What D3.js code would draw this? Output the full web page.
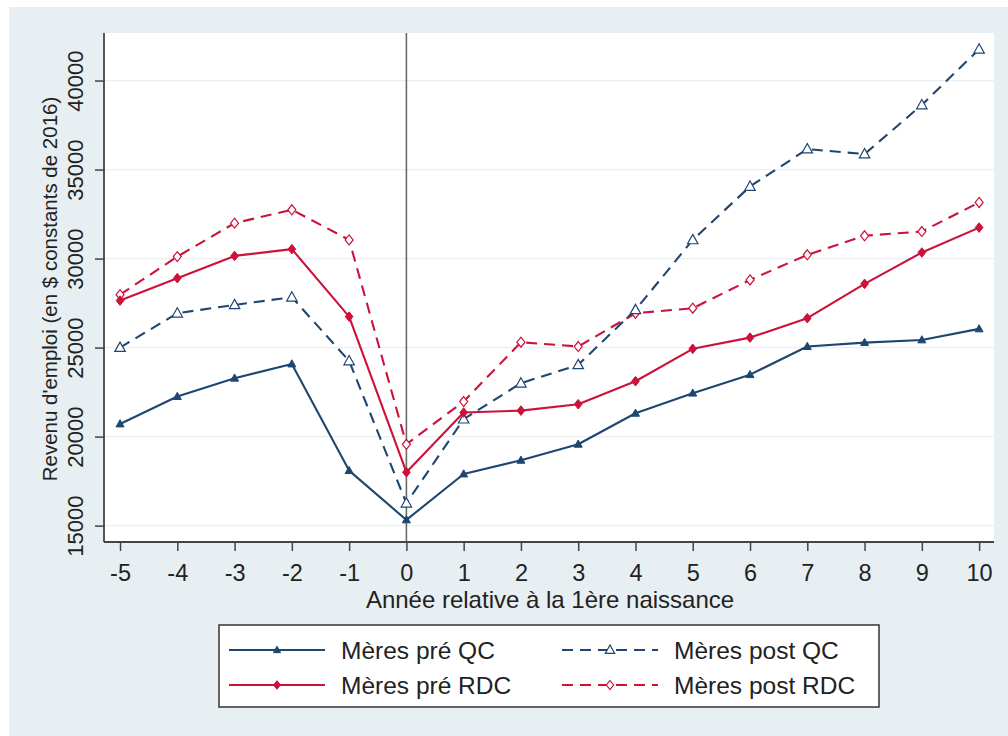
<!DOCTYPE html>
<html>
<head>
<meta charset="utf-8">
<script src="https://cdn.jsdelivr.net/npm/d3@7"></script>
<style>
  html, body { margin: 0; padding: 0; background: #ffffff; }
  svg { display: block; }
  text { font-family: "Liberation Sans", Arial, sans-serif; fill: #222; }
</style>
</head>
<body>
<svg id="chart" width="1008" height="736"></svg>
<script>
// ---- Data ----
const years = [-5, -4, -3, -2, -1, 0, 1, 2, 3, 4, 5, 6, 7, 8, 9, 10];
const meresPreQC   = [20710, 22250, 23280, 24080, 18090, 15320, 17900, 18670, 19570, 21310, 22440, 23480, 25060, 25280, 25430, 26050];
const meresPreRDC  = [27640, 28900, 30150, 30530, 26740, 18000, 21350, 21460, 21820, 23110, 24930, 25560, 26650, 28580, 30340, 31740];
const meresPostQC  = [25000, 26930, 27400, 27830, 24250, 16260, 20980, 23000, 24030, 27120, 31050, 34050, 36150, 35870, 38630, 41760];
const meresPostRDC = [27970, 30110, 31990, 32740, 31050, 19570, 21970, 25300, 25060, 26930, 27210, 28800, 30210, 31280, 31520, 33150];
const yTicks = [15000, 20000, 25000, 30000, 35000, 40000];
const xTicks = years;
const seriesNames = ["Mères pré QC", "Mères post QC", "Mères pré RDC", "Mères post RDC"];
const xTitle = "Année relative à la 1ère naissance";
const yTitle = "Revenu d'emploi (en $ constants de 2016)";

// ---- Styles ----
const BLUE = "#1f4670";
const RED = "#cc1239";
const series = [
  { name: seriesNames[0], values: meresPreQC,   color: BLUE, dash: null,   marker: "triFilled" },
  { name: seriesNames[1], values: meresPostQC,  color: BLUE, dash: "11,7", marker: "triHollow" },
  { name: seriesNames[2], values: meresPreRDC,  color: RED,  dash: null,   marker: "diaFilled" },
  { name: seriesNames[3], values: meresPostRDC, color: RED,  dash: "11,7", marker: "diaHollow" }
];

const svg = d3.select("#chart");
// outer panel
svg.append("rect").attr("x", 9).attr("y", 7).attr("width", 999).attr("height", 729).attr("fill", "#e8eff2");

const plot = { left: 104, right: 994, top: 33, bottom: 542 };
svg.append("rect").attr("x", plot.left).attr("y", plot.top)
  .attr("width", plot.right - plot.left).attr("height", plot.bottom - plot.top).attr("fill", "#ffffff");

const x = d3.scaleLinear().domain([-5.28, 10.26]).range([plot.left, plot.right]);
const y = d3.scaleLinear().domain([14080, 42670]).range([plot.bottom, plot.top]);

const plainFmt = d => String(d);

// gridlines
svg.append("g").selectAll("line").data(yTicks).join("line")
  .attr("x1", plot.left).attr("x2", plot.right)
  .attr("y1", d => y(d)).attr("y2", d => y(d))
  .attr("stroke", "#eaeff2").attr("stroke-width", 1.3);

// vertical reference line at 0
svg.append("line").attr("x1", x(0)).attr("x2", x(0)).attr("y1", plot.top).attr("y2", plot.bottom)
  .attr("stroke", "#6a6a6a").attr("stroke-width", 1.6);

// axes
const yAxis = d3.axisLeft(y).tickValues(yTicks).tickSize(9).tickFormat(plainFmt);
const gy = svg.append("g").attr("transform", `translate(${plot.left},0)`).call(yAxis);
gy.select(".domain").remove();
gy.selectAll(".tick line").attr("stroke", "#444").attr("stroke-width", 1.5);
gy.selectAll(".tick text")
  .attr("x", null).attr("dy", null)
  .attr("transform", "translate(-21,0) rotate(-90)")
  .attr("text-anchor", "middle")
  .attr("font-size", 22).attr("fill", "#222");

const xAxis = d3.axisBottom(x).tickValues(xTicks).tickSize(9).tickFormat(plainFmt);
const gx = svg.append("g").attr("transform", `translate(0,${plot.bottom})`).call(xAxis);
gx.select(".domain").remove();
gx.selectAll(".tick line").attr("stroke", "#444").attr("stroke-width", 1.5);
gx.selectAll(".tick text").attr("y", 38.5).attr("dy", null).attr("font-size", 23.5).attr("fill", "#222");

// axis lines
svg.append("line").attr("x1", plot.left).attr("x2", plot.left).attr("y1", plot.top).attr("y2", plot.bottom)
  .attr("stroke", "#444").attr("stroke-width", 1.8);
svg.append("line").attr("x1", plot.left).attr("x2", plot.right).attr("y1", plot.bottom).attr("y2", plot.bottom)
  .attr("stroke", "#444").attr("stroke-width", 1.8);

// titles
svg.append("text").attr("x", 550).attr("y", 607.5).attr("text-anchor", "middle")
  .attr("font-size", 24).text(xTitle);
svg.append("text").attr("transform", "translate(57,289) rotate(-90)").attr("text-anchor", "middle")
  .attr("font-size", 20.5).text(yTitle);

// markers
function drawMarker(g, type, color, cx, cy, scale) {
  const s = scale || 1;
  if (type === "triFilled") {
    const r = 4.2 * s;
    g.append("path").attr("d", `M${cx},${cy - r} L${cx + r * 0.95},${cy + r * 0.7} L${cx - r * 0.95},${cy + r * 0.7} Z`)
      .attr("fill", color).attr("stroke", color).attr("stroke-width", 1);
  } else if (type === "triHollow") {
    const r = 5.5 * s;
    g.append("path").attr("d", `M${cx},${cy - r} L${cx + r * 0.95},${cy + r * 0.7} L${cx - r * 0.95},${cy + r * 0.7} Z`)
      .attr("fill", "#fff").attr("stroke", color).attr("stroke-width", 1.2);
  } else if (type === "diaFilled") {
    const r = 4.8 * s;
    g.append("path").attr("d", `M${cx},${cy - r} L${cx + r * 0.8},${cy} L${cx},${cy + r} L${cx - r * 0.8},${cy} Z`)
      .attr("fill", color).attr("stroke", color).attr("stroke-width", 1);
  } else {
    const r = 5 * s;
    g.append("path").attr("d", `M${cx},${cy - r} L${cx + r * 0.8},${cy} L${cx},${cy + r} L${cx - r * 0.8},${cy} Z`)
      .attr("fill", "#fff").attr("stroke", color).attr("stroke-width", 1.2);
  }
}

const line = d3.line().x((d, i) => x(years[i])).y(d => y(d));
const drawOrder = [series[3], series[1], series[2], series[0]];
drawOrder.forEach(s => {
  const g = svg.append("g");
  g.append("path").datum(s.values).attr("d", line)
    .attr("fill", "none").attr("stroke", s.color).attr("stroke-width", 2.1)
    .attr("stroke-dasharray", s.dash).attr("stroke-linejoin", "round");
  s.values.forEach((v, i) => drawMarker(g, s.marker, s.color, x(years[i]), y(v)));
});

// legend
const lg = svg.append("g");
lg.append("rect").attr("x", 219).attr("y", 625).attr("width", 660).attr("height", 82)
  .attr("fill", "#ffffff").attr("stroke", "#333").attr("stroke-width", 1.5);
const legendPos = [
  { s: series[0], lx: 229, rowY: 650 },
  { s: series[1], lx: 562, rowY: 650 },
  { s: series[2], lx: 229, rowY: 685 },
  { s: series[3], lx: 562, rowY: 685 }
];
legendPos.forEach(p => {
  const g = lg.append("g");
  g.append("line").attr("x1", p.lx).attr("x2", p.lx + 96).attr("y1", p.rowY).attr("y2", p.rowY)
    .attr("stroke", p.s.color).attr("stroke-width", 2.1).attr("stroke-dasharray", p.s.dash);
  drawMarker(g, p.s.marker, p.s.color, p.lx + 48, p.rowY, 0.9);
  g.append("text").attr("x", p.lx + 112).attr("y", p.rowY + 9).attr("font-size", 24.5).text(p.s.name);
});
</script>
</body>
</html>
